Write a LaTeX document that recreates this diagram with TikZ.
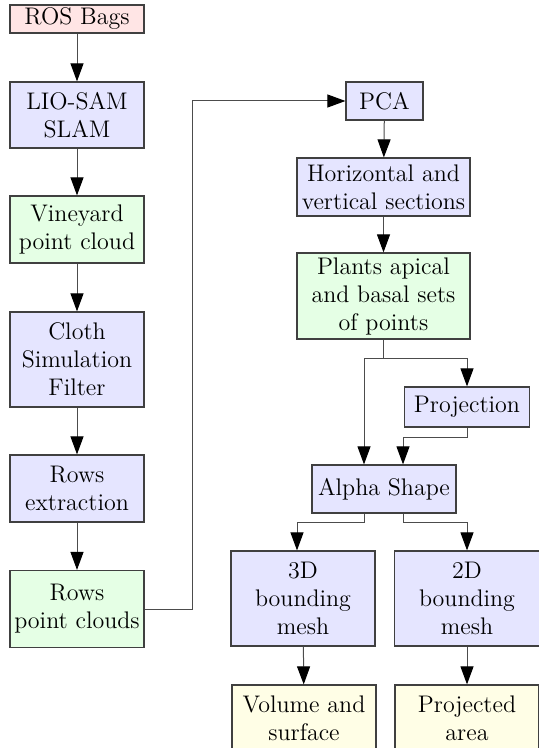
\documentclass[tikz,border=0pt]{standalone}
\usetikzlibrary{arrows.meta,calc}

\begin{document}
\begin{tikzpicture}[
    x=0.5pt, y=-0.5pt,
    box/.style={rectangle, draw=black!75, line width=0.6pt, align=center, font=\large, inner sep=1pt},
    bagbox/.style={box, fill=red!10},
    procbox/.style={box, fill=blue!10},
    cloudbox/.style={box, fill=green!10},
    outbox/.style={box, fill=yellow!10},
    arr/.style={-{Triangle[length=9pt,width=6.5pt,black]}, draw=black!70, line width=0.5pt}
]
\clip (0,0) rectangle (539,748);

% Left column
\node[bagbox, minimum width=67pt, minimum height=14pt] (bags) at (77,19) {ROS Bags};
\node[procbox, minimum width=67pt, minimum height=33pt] (slam) at (77,115) {LIO-SAM\\SLAM};
\node[cloudbox, minimum width=67pt, minimum height=33.5pt] (vine) at (77,229.5) {Vineyard\\point cloud};
\node[procbox, minimum width=67pt, minimum height=47.5pt] (csf) at (77,359.5) {Cloth\\Simulation\\Filter};
\node[procbox, minimum width=67pt, minimum height=33.5pt] (rowsx) at (77,488.5) {Rows\\extraction};
\node[cloudbox, minimum width=67pt, minimum height=38.5pt] (rowspc) at (77,609) {Rows\\point clouds};

% Right column
\node[procbox, minimum width=38.5pt, minimum height=19pt] (pca) at (384.5,101) {PCA};
\node[procbox, minimum width=86.5pt, minimum height=29pt] (sect) at (383.5,187) {Horizontal and\\vertical sections};
\node[cloudbox, minimum width=86.5pt, minimum height=43pt] (apex) at (383.5,296) {Plants apical\\and basal sets\\of points};
\node[procbox, minimum width=62.5pt, minimum height=20pt] (proj) at (467,407) {Projection};
\node[procbox, minimum width=72pt, minimum height=24pt] (alpha) at (384,489) {Alpha Shape};

% Meshes
\node[procbox, minimum width=72pt, minimum height=47.5pt] (mesh3d) at (303,598.5) {3D\\bounding\\mesh};
\node[procbox, minimum width=72.5pt, minimum height=47.5pt] (mesh2d) at (467,598.5) {2D\\bounding\\mesh};

% Results
\node[outbox, minimum width=72pt, minimum height=33pt] (vol) at (304,718) {Volume and\\surface};
\node[outbox, minimum width=72pt, minimum height=33pt] (area) at (467,718) {Projected\\area};

% Arrows
\draw[arr] (bags) -- (slam);
\draw[arr] (slam) -- (vine);
\draw[arr] (vine) -- (csf);
\draw[arr] (csf) -- (rowsx);
\draw[arr] (rowsx) -- (rowspc);
\draw[arr] (rowspc.east) -- ++(48,0) |- (pca.west);
\draw[arr] (pca) -- (sect);
\draw[arr] (sect) -- (apex);

\draw[draw=black!70, line width=0.5pt] (apex.south) -- ++(0,19) coordinate (split);
\draw[arr] (split) -| ($(alpha.north)+(-20,0)$);
\draw[arr] (split) -| (proj.north);
\draw[arr] (proj.south) -- ++(0,10) -| ($(alpha.north)+(19,0)$);

\draw[arr] ($(alpha.south)+(-20,0)$) -- ++(0,9) -| ($(mesh3d.north)+(-6,0)$);
\draw[arr] ($(alpha.south)+(19,0)$) -- ++(0,9) -| (mesh2d.north);

\draw[arr] (mesh3d) -- (vol);
\draw[arr] (mesh2d) -- (area);

\end{tikzpicture}
\end{document}
